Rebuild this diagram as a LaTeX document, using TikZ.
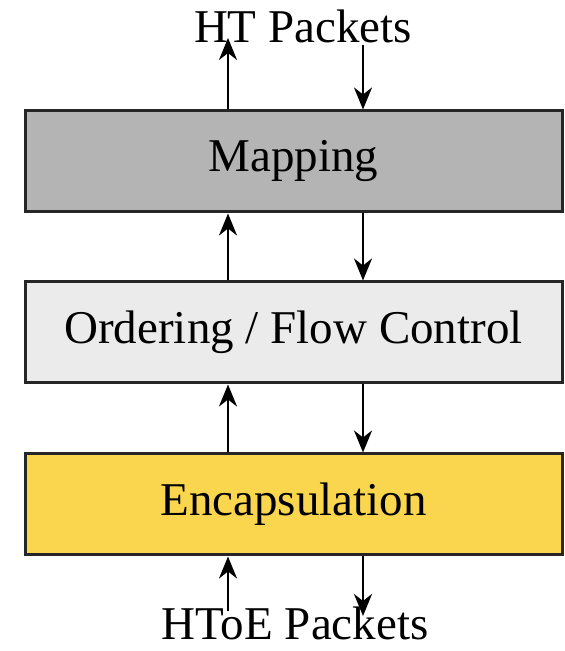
\documentclass[tikz,border=0pt]{standalone}
\usepackage{fontspec}
\setmainfont{Liberation Serif}
\usetikzlibrary{positioning,arrows.meta}
\definecolor{mapgray}{RGB}{180,180,180}
\definecolor{ordgray}{RGB}{235,235,235}
\definecolor{encyellow}{RGB}{250,214,78}
\tikzset{
  layer/.style={draw=black!85, line width=1.5pt, minimum width=268.5pt,
    minimum height=50.5pt, inner sep=0pt,
    font=\fontsize{23.5pt}{28pt}\selectfont},
  label/.style={inner sep=0pt, anchor=base,
    font=\fontsize{23.5pt}{28pt}\selectfont},
  pkt/.style={line width=1.3pt, -{Stealth[length=11pt,width=9pt,inset=3.5pt]}}
}
\begin{document}
\begin{tikzpicture}[x=0.5pt,y=0.5pt]
  \useasboundingbox (0,0) rectangle (564,651);
  \node (map) [layer, fill=mapgray] at (293.5,489.5) {Mapping};
  \node (ord) [layer, fill=ordgray, below=33.5pt of map] {Ordering / Flow Control};
  \node (enc) [layer, fill=encyellow, below=34pt of ord] {Encapsulation};
  \node (ht) [label] at (303,608) {HT Packets};
  \node (htoe) [label] at (295,11) {HToE Packets};
  \coordinate (htup) at (228,613);
  \coordinate (htdn) at (363,606);
  \coordinate (eup) at (228,40);
  \coordinate (edn) at (363,35);
  \draw[pkt] (map.north -| htup) -- (htup);
  \draw[pkt] (htdn) -- (map.north -| htdn);
  \draw[pkt] (ord.north -| htup) -- (map.south -| htup);
  \draw[pkt] (map.south -| htdn) -- (ord.north -| htdn);
  \draw[pkt] (enc.north -| htup) -- (ord.south -| htup);
  \draw[pkt] (ord.south -| htdn) -- (enc.north -| htdn);
  \draw[pkt] (eup) -- (enc.south -| eup);
  \draw[pkt] (enc.south -| edn) -- (edn);
\end{tikzpicture}
\end{document}
